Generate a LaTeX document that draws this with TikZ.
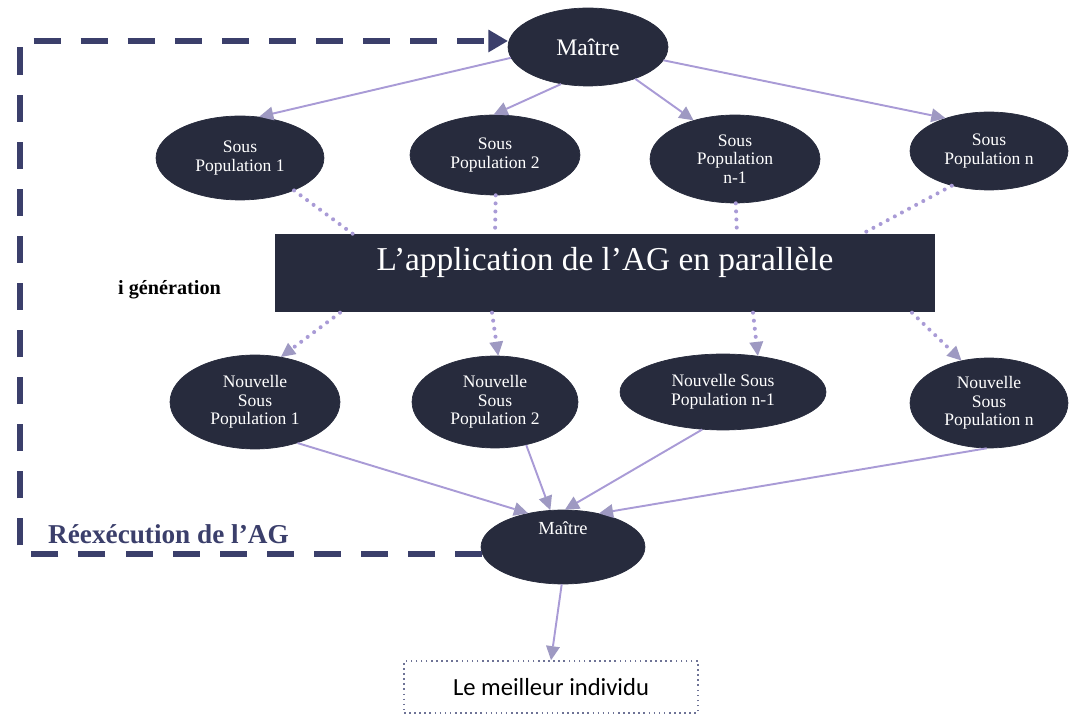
\documentclass[tikz,border=0pt]{standalone}
\usepackage{fontspec}
\setmainfont{Liberation Serif}
\newfontfamily\labelsans{Carlito}
\usetikzlibrary{arrows.meta,shapes.geometric,calc}
\definecolor{popfill}{HTML}{272B3D}
\definecolor{linkc}{HTML}{A99BD6}
\definecolor{tipc}{HTML}{9E99C2}
\definecolor{loopc}{HTML}{3B3F6B}
\definecolor{boxline}{HTML}{6E7396}
\begin{document}
\begin{tikzpicture}[x=0.02cm,y=-0.02cm,
  sz/.style 2 args={minimum width=#1*0.04cm,minimum height=#2*0.04cm},
  pop/.style={ellipse,fill=popfill,draw=popfill,text=white,align=center,
    inner sep=0pt,font=\fontsize{10}{10.6}\selectfont},
  link/.style={draw=linkc,line width=1.1pt,
    -{Triangle[length=8pt,width=8pt,color=tipc,line width=0pt]}},
  dots/.style={draw=linkc,line width=2.3pt,line cap=round,dash pattern=on 0pt off 4.6pt},
  dotlink/.style={dots,-{Triangle[length=8pt,width=8pt,color=tipc,line width=0pt]}},
  loop/.style={draw=loopc,line width=3.4pt,dash pattern=on 15.4pt off 11.4pt,
    -{Triangle[length=11pt,width=13pt,color=loopc,line width=0pt]}},
  caption/.style={text=loopc,font=\bfseries}]
\useasboundingbox (0,0) rectangle (1069,715);

% master node and first-generation sub-populations
\node[pop,sz={80}{39},font=\fontsize{13.5}{15}\selectfont] (m1) at (588,47) {Maître};
\node[pop,sz={84}{42}] (sp1) at (240,158) {Sous\\Population 1};
\node[pop,sz={85}{40}] (sp2) at (495,155) {Sous\\Population 2};
\node[pop,sz={85}{44}] (sp3) at (735,159) {Sous\\Population\\n-1};
\node[pop,sz={79}{39}] (sp4) at (989,151) {Sous\\Population n};

% parallel GA block
\node[rectangle,fill=popfill,minimum width=660*0.02cm,minimum height=78*0.02cm,
  inner sep=0pt,anchor=north west] (ga) at (275,234) {};
\node[text=white,font=\fontsize{19}{21}\selectfont,anchor=base] (gat) at (605,271)
  {L’application de l’AG en parallèle};
\node[anchor=base west,font=\bfseries\fontsize{11.5}{13}\selectfont] (gen) at (112,295)
  {i génération};

% new sub-populations
\node[pop,sz={85}{47}] (ns1) at (255,402) {Nouvelle\\Sous\\Population 1};
\node[pop,sz={83}{46}] (ns2) at (495,402) {Nouvelle\\Sous\\Population 2};
\node[pop,sz={103}{38}] (ns3) at (723,392) {Nouvelle Sous\\Population n-1};
\node[pop,sz={79}{45}] (ns4) at (989,403) {Nouvelle\\Sous\\Population n};

% second master and result
\node[pop,sz={82}{37},font=\fontsize{10.5}{12}\selectfont] (m2) at (563,547) {Maître\\[10pt]};
\node[draw=boxline,dotted,line width=0.9pt,minimum width=294*0.02cm,
  minimum height=52*0.02cm,inner sep=0pt,font=\labelsans\fontsize{14}{16}\selectfont]
  (best) at (551,687) {Le meilleur individu};
\node[caption,anchor=base west,font=\bfseries\fontsize{15.5}{17}\selectfont] (rerun) at (42,544)
  {Réexécution de l’AG};

% distribution from the master
\draw[link] (m1.188) -- (sp1.65);
\draw[link] (m1.234) -- (sp2.92);
\draw[link] (m1.326) -- (sp3.137);
\draw[link] (m1.350) -- (sp4.143);

% sub-populations feed the parallel GA
\draw[dots] (sp1.329) -- ($(ga.north west)+(78,0)$);
\draw[dots] (sp2.271) -- ($(ga.north west)+(220,0)$);
\draw[dots] (sp3.271) -- ($(ga.north west)+(462,0)$);
\draw[dots] (sp4.223) -- ($(ga.north west)+(587,0)$);

% parallel GA produces new sub-populations
\draw[dotlink] ($(ga.south west)+(65,0)$) -- (ns1.60);
\draw[dotlink] ($(ga.south west)+(217,0)$) -- (ns2.86);
\draw[dotlink] ($(ga.south west)+(478,0)$) -- (ns3.46);
\draw[dotlink] ($(ga.south west)+(637,0)$) -- (ns4.123);

% gathering at the second master
\draw[link] (ns1.316) -- (m2.136);
\draw[link] (ns2.306) -- (m2.109);
\draw[link] (ns3.241) -- (m2.87);
\draw[link] (ns4.267) -- (m2.43);
\draw[link] (m2.268) -- (best.north);

% re-run loop
\coordinate (corner) at (20,41);
\draw[loop] (m2.185) -| (corner) -- (corner -| m1.west);
\end{tikzpicture}
\end{document}
